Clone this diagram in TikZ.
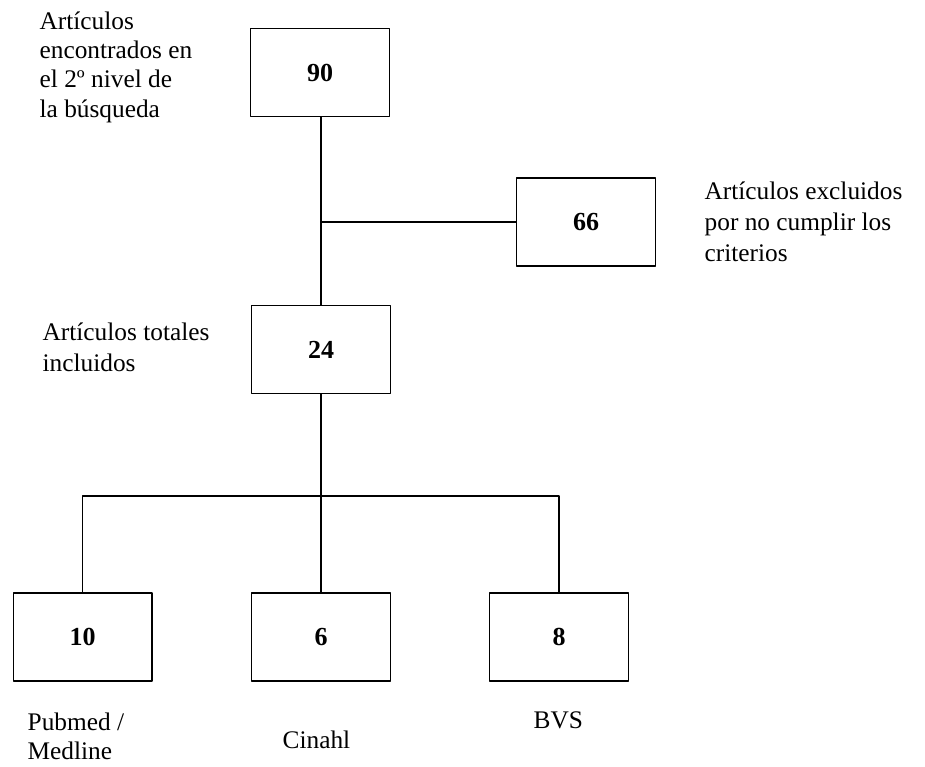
\documentclass[tikz,border=0pt]{standalone}
\usepackage{fontspec}
\setmainfont{Liberation Serif}
\begin{document}
\begin{tikzpicture}[line cap=round, line join=round, x=0.75pt, y=-0.75pt, font=\fontsize{19}{22}\selectfont, line width=1pt]
	\tikzset{countbox/.style={draw, minimum width=104pt, minimum height=66pt, font=\fontsize{19.5}{22}\selectfont\bfseries},
		note/.style={align=left, inner sep=0pt, anchor=north west},
		wide/.style={font=\fontsize{19}{23.5}\selectfont}}
	\useasboundingbox (0,0) rectangle (925,767);
	\node[countbox] (n90) at (320,72.5) {90};
	\node[countbox] (n66) at (586,222) {66};
	\node[countbox] (n24) at (321,349.5) {24};
	\foreach\v/\x in {10/82.5, 6/321, 8/559} \node[countbox] (n\v) at (\x,637) {\v};
	\coordinate (j1) at (321,222);
	\coordinate (j2) at (321,496);
	\draw (n90.south -| j1) -- (n24.north -| j1);
	\draw (j1) -- (n66.west);
	\draw (n24.south) -- (n6.north);
	\draw (n10.north) |- (j2) -| (n8.north);
	\node[note] (lbl90) at (39,11) {Artículos\\encontrados en\\el 2º nivel de\\la búsqueda};
	\node[note, wide] (lbl66) at (704,181) {Artículos excluidos\\por no cumplir los\\criterios};
	\node[note, wide] (lbl24) at (42,322) {Artículos totales\\incluidos};
	\node[note] (lblpub) at (27,712) {Pubmed /\\Medline};
	\node[note] (lblcin) at (282,730) {Cinahl};
	\node[note] (lblbvs) at (533,711) {BVS};
\end{tikzpicture}
\end{document}
